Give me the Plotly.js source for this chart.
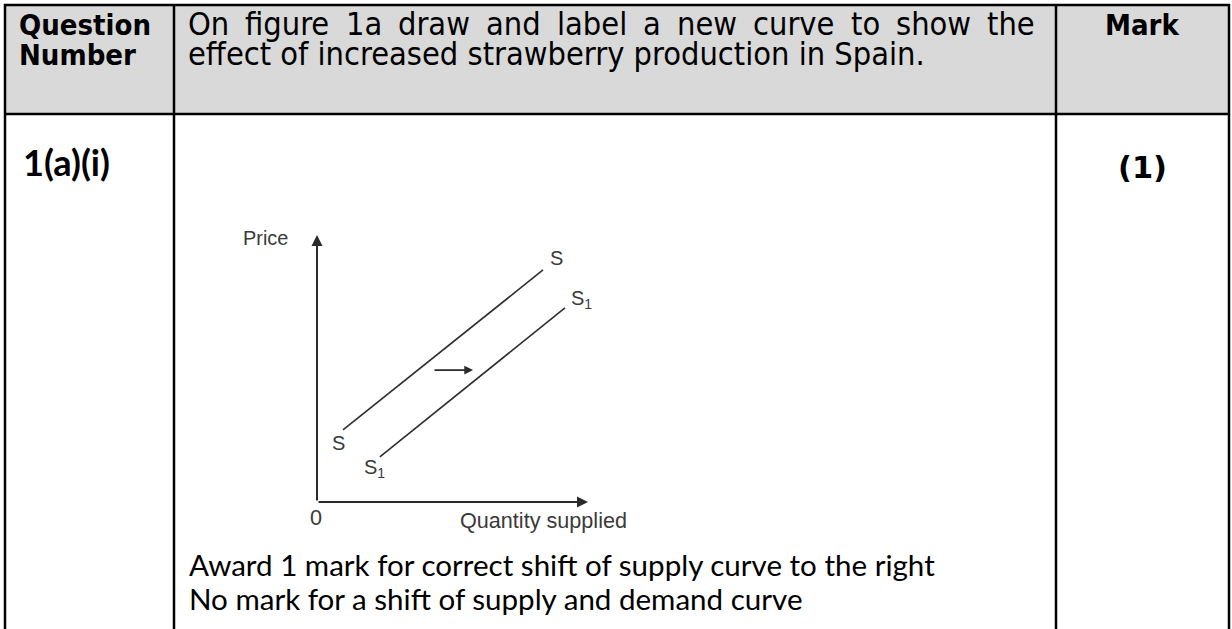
<!DOCTYPE html>
<html><head><meta charset="utf-8">
<script src="https://cdn.plot.ly/plotly-3.0.1.min.js"></script>
<style>html,body{margin:0;padding:0;background:#fff}#chart{width:1232px;height:629px}</style>
</head><body><div id="chart"></div>
<script>
// ---- data ----
const supplyX  = [0.96, 8.34];
const supplyY  = [2.70, 8.69];
const supply1X = [2.32, 9.15];
const supply1Y = [1.69, 7.27];
const shiftArrowX = [4.28, 5.76];
const shiftArrowY = [4.94, 4.94];
const axisMax = [10, 10];
const curveNames = ["S", "S<sub>1</sub>"];
const axisLabels = ["Price", "Quantity supplied", "0"];
const headerLeft = ["Question", "Number"];
const headerMid = ["On figure 1a draw and label a new curve to show the",
                   "effect of increased strawberry production in Spain."];
const headerRight = "Mark";
const questionNo = "1(a)(i)";
const markValue = "(1)";
const guidance = ["Award 1 mark for correct shift of supply curve to the right",
                  "No mark for a shift of supply and demand curve"];

// ---- layout helpers ----
const W = 1232, H = 629;
const px = x => x / W, py = y => 1 - y / H;
const ctx = document.createElement('canvas').getContext('2d');
function tw(t, fam, wt, size){ ctx.font = wt + ' ' + size + 'px ' + fam; return ctx.measureText(t).width; }
function fit(t, fam, wt, target){ return target / tw(t, fam, wt, 100) * 100; }

const TAHOMA = '"DejaVu Sans Condensed", "DejaVu Sans", sans-serif';
const VERDB = '"DejaVu Sans", sans-serif';
const CALIBRI = 'Lato, "Open Sans", sans-serif';
const ARIAL = '"Liberation Sans", Arial, sans-serif';

const ann = [];
function txt(t, x, baseline, fam, wt, size, anchor, color){
  ann.push({text: wt === 'bold' ? '<b>' + t + '</b>' : t, xref: 'paper', yref: 'paper',
    x: px(x), y: py(baseline - 0.35 * size), xanchor: anchor || 'left', yanchor: 'middle',
    showarrow: false, borderpad: 0, borderwidth: 0,
    font: {family: fam, size: size, color: color || '#000', weight: 'normal'}});
}

// header left / right
const fsQ = fit(headerLeft[0], TAHOMA, 'bold', 132);
txt(headerLeft[0], 19, 35, TAHOMA, 'bold', fsQ);
txt(headerLeft[1], 19, 65, TAHOMA, 'bold', fsQ);
txt(headerRight, 1142, 35, TAHOMA, 'bold', fsQ, 'center');

// header middle: line 2 natural, line 1 justified
const fsH = fit(headerMid[1], TAHOMA, 'normal', 737);
txt(headerMid[1], 188, 65, TAHOMA, 'normal', fsH);
(function(){
  const words = headerMid[0].split(' ');
  const widths = words.map(w => tw(w, TAHOMA, 'normal', fsH));
  const total = widths.reduce((a, b) => a + b, 0);
  const gap = (1035 - 188 - total) / (words.length - 1);
  let x = 188;
  words.forEach((w, i) => { txt(w, x, 35, TAHOMA, 'normal', fsH); x += widths[i] + gap; });
})();

// body
txt(questionNo, 23, 175, CALIBRI, 'bold', fit(questionNo, CALIBRI, 'bold', 87));
txt(markValue, 1142, 178, VERDB, 'bold', fit(markValue, VERDB, 'bold', 49), 'center');
const fsG = fit(guidance[0], CALIBRI, 'normal', 748);
txt(guidance[0], 189, 575, CALIBRI, 'normal', fsG);
txt(guidance[1], 189, 609, CALIBRI, 'normal', fsG);

// diagram labels
const DG = '#3a3a3a';
const fsD = fit(axisLabels[1], ARIAL, 'normal', 167);
txt(axisLabels[0], 265, 245, ARIAL, 'normal', fsD * 0.92, 'center', DG);
txt(axisLabels[1], 543, 528, ARIAL, 'normal', fsD, 'center', DG);
txt(axisLabels[2], 316, 525, ARIAL, 'normal', fsD, 'center', DG);

const lblFont = {family: ARIAL, size: 20, color: DG};
function curveLabel(t, x, y, xs, ys){
  ann.push({text: t, x: x, y: y, xref: 'x', yref: 'y', showarrow: false,
    xshift: xs, yshift: ys, font: lblFont, xanchor: 'center', yanchor: 'middle'});
}
curveLabel(curveNames[0], supplyX[1], supplyY[1], 13, 12);
curveLabel(curveNames[0], supplyX[0], supplyY[0], -5, -13);
curveLabel(curveNames[1], supply1X[1], supply1Y[1], 17, 8);
curveLabel(curveNames[1], supply1X[0], supply1Y[0], -5, -12);

// axes arrows and shift arrow
function arrow(x0, y0, x1, y1, w){
  ann.push({x: x1, y: y1, ax: x0, ay: y0, xref: 'x', yref: 'y', axref: 'x', ayref: 'y',
    text: '', showarrow: true, arrowhead: 2, arrowsize: 1.1, arrowwidth: w, arrowcolor: '#2a2a2a'});
}
arrow(0, 0, axisMax[0], 0, 2);
arrow(0, 0, 0, axisMax[1], 2);
arrow(shiftArrowX[0], shiftArrowY[0], shiftArrowX[1], shiftArrowY[1], 1.6);

// table
const LW = 2.5;
const shapes = [
  {type: 'rect', xref: 'paper', yref: 'paper', x0: px(5), x1: px(1229), y0: py(5), y1: py(114),
   fillcolor: '#d9d9d9', line: {width: 0}, layer: 'below'},
];
function hline(y, x0, x1){ shapes.push({type: 'line', xref: 'paper', yref: 'paper', x0: px(x0), x1: px(x1), y0: py(y), y1: py(y), line: {color: '#000', width: LW}}); }
function vline(x, y0, y1){ shapes.push({type: 'line', xref: 'paper', yref: 'paper', x0: px(x), x1: px(x), y0: py(y0), y1: py(y1), line: {color: '#000', width: LW}}); }
hline(5, 4, 1230); hline(114, 4, 1230);
[5, 174, 1056, 1229].forEach(x => vline(x, 4, 640));

const traces = [
  {x: supplyX, y: supplyY, mode: 'lines', line: {color: '#2e2e2e', width: 1.6}, hoverinfo: 'skip'},
  {x: supply1X, y: supply1Y, mode: 'lines', line: {color: '#2e2e2e', width: 1.6}, hoverinfo: 'skip'}
];

const layout = {
  width: W, height: H, margin: {l: 0, r: 0, t: 0, b: 0},
  paper_bgcolor: '#fff', plot_bgcolor: 'rgba(0,0,0,0)', showlegend: false,
  xaxis: {domain: [px(317), px(588)], range: [0, axisMax[0]], visible: false, fixedrange: true},
  yaxis: {domain: [py(502), py(235)], range: [0, axisMax[1]], visible: false, fixedrange: true},
  shapes: shapes, annotations: ann
};
Plotly.newPlot('chart', traces, layout, {staticPlot: true, displayModeBar: false});
</script></body></html>
